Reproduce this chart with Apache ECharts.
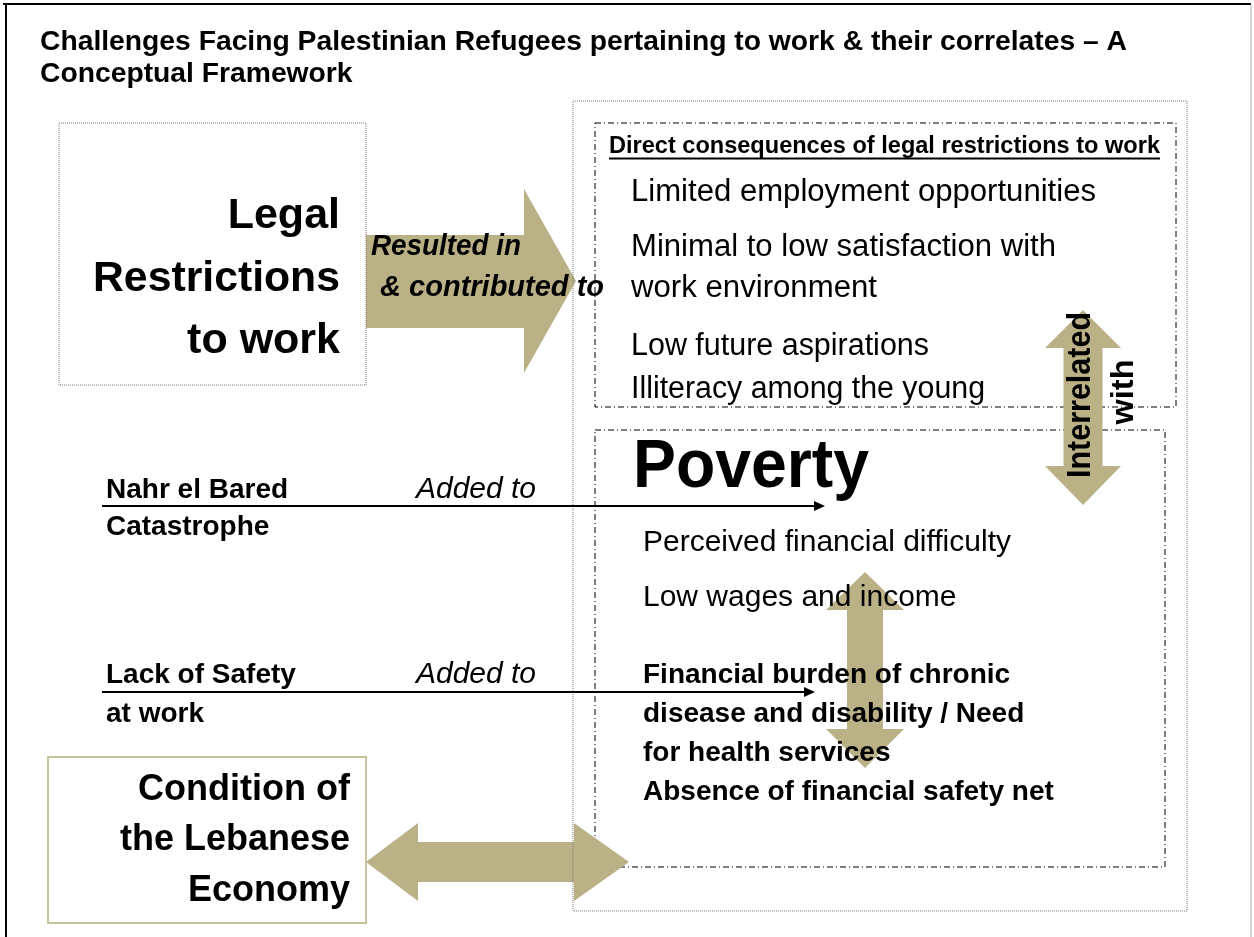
<!DOCTYPE html>
<html>
<head>
<meta charset="utf-8">
<script src="https://cdn.jsdelivr.net/npm/echarts@6/dist/echarts.min.js"></script>
<style>
html,body{margin:0;padding:0;background:#fff;}
#main{width:1254px;height:937px;}
</style>
</head>
<body>
<div id="main"></div>
<script>
// ---- text content ----
var titleLines = ["Challenges Facing Palestinian Refugees pertaining to work & their correlates \u2013 A", "Conceptual Framework"];
var legalLines = ["Legal", "Restrictions", "to work"];
var resultedLines = ["Resulted in", " & contributed to"];
var directHeading = "Direct consequences of legal restrictions to work";
var directItems = ["Limited employment opportunities", "Minimal to low satisfaction with", "work environment", "Low future aspirations", "Illiteracy among the young"];
var povertyTitle = "Poverty";
var povertyItems = ["Perceived financial difficulty", "Low wages and income"];
var povertyBold = ["Financial burden of chronic", "disease and disability / Need", "for health services", "Absence of financial safety net"];
var nahrLines = ["Nahr el Bared", "Catastrophe"];
var safetyLines = ["Lack of Safety", "at work"];
var addedTo = "Added to";
var interLines = ["Interrelated", "with"];
var economyLines = ["Condition of", "the Lebanese", "Economy"];

// ---- styling / layout ----
var TAN = '#bbb186';
var FAMILY = 'Liberation Sans';
var cv = document.createElement('canvas').getContext('2d');
function fontStr(size, bold, italic){ return (italic?'italic ':'normal ') + (bold?'bold ':'normal ') + size + 'px "' + FAMILY + '", Arial, sans-serif'; }
function T(text, x, y, size, o){
  o = o || {};
  var sx = o.sx || 1;
  if (o.w){ cv.font = fontStr(size, o.bold, o.italic); var m = cv.measureText(text).width; if (m > 0) sx = o.w / m; }
  return {type:'text', x:x, y:y, z:50, scaleX:sx, rotation:o.rot||0, silent:true,
    style:{text:text, fontFamily:FAMILY, fontSize:size, fontWeight:o.bold?'bold':'normal', fontStyle:o.italic?'italic':'normal',
      fill:'#000', textAlign:o.align||'left', textVerticalAlign:'middle'}};
}
function L(x1,y1,x2,y2,o){
  o=o||{};
  return {type:'line', z:o.z||20, silent:true, shape:{x1:x1,y1:y1,x2:x2,y2:y2},
    style:{stroke:o.color||'#000', lineWidth:o.lw||1, lineDash:o.dash||null}};
}
function R(x,y,w,h,o){
  return {type:'rect', z:o.z||20, silent:true, shape:{x:x,y:y,width:w,height:h},
    style:{fill:'none', stroke:o.color, lineWidth:o.lw||1, lineDash:o.dash||null}};
}
function P(pts, z){ return {type:'polygon', z:z||10, silent:true, shape:{points:pts}, style:{fill:TAN}}; }
function rightArrow(x0, sy0, sy1, hx, hy0, hy1, tx, ty){
  return P([[x0,sy0],[hx,sy0],[hx,hy0],[tx,ty],[hx,hy1],[hx,sy1],[x0,sy1]]);
}
function hDouble(lt, lb, rb, rt, cy, hh, sh){
  return P([[lt,cy],[lb,cy-hh],[lb,cy-sh],[rb,cy-sh],[rb,cy-hh],[rt,cy],[rb,cy+hh],[rb,cy+sh],[lb,cy+sh],[lb,cy+hh]]);
}
function vDouble(cx, tt, tb, bb, bt, hw, sw){
  return P([[cx,tt],[cx+hw,tb],[cx+sw,tb],[cx+sw,bb],[cx+hw,bb],[cx,bt],[cx-hw,bb],[cx-sw,bb],[cx-sw,tb],[cx-hw,tb]]);
}
function arrowLine(x1, x2, y){
  return [L(x1,y,x2-6,y,{lw:2,z:30}), {type:'polygon', z:30, silent:true, shape:{points:[[x2,y],[x2-11,y-5],[x2-11,y+5]]}, style:{fill:'#000'}}];
}

var DOT = [1,1];
var DASHDOT = [6,3,1,3];
var g = [];
// frame
g.push(L(3,4,1251,4,{lw:2,z:5}));
g.push(L(6,4,6,937,{lw:2,z:5}));
g.push(L(1251,4,1251,937,{lw:1,color:'#b0b0b0',z:5}));

// arrows (beneath boxes and text)
g.push(rightArrow(366,235,328,524,189,373,576,281));
g.push(hDouble(366,418,574,629,862,39,20));
g.push(vDouble(1083,310,348,466,505,38,19.5));
g.push(vDouble(865,572,610,729,768,39,18));

// inner dash-dot boxes (behind the vertical arrow)
g.push(R(595,123,581,284,{color:'#000',dash:DASHDOT,z:5}));
g.push(R(595,430,570,437,{color:'#000',dash:DASHDOT,z:5}));
// dotted boxes (over arrows)
g.push(R(59,123,307,262,{color:'#777',dash:DOT,z:20}));
g.push(R(573,101,614,810,{color:'#777',dash:DOT,z:20}));
g.push(R(48,757,318,166,{color:'#c9c29f',lw:2,z:20}));

// title
var tEl = T(titleLines[0],40,42,28,{bold:true,w:1087});
g.push(tEl);
g.push(T(titleLines[1],40,74,28,{bold:true,sx:tEl.scaleX}));

// legal restrictions
g.push(T(legalLines[0],340,216,43,{bold:true,align:'right'}));
g.push(T(legalLines[1],340,279,43,{bold:true,align:'right',w:247}));
g.push(T(legalLines[2],340,341,43,{bold:true,align:'right'}));
g.push(T(resultedLines[0],371,247,29,{bold:true,italic:true,w:150}));
g.push(T(resultedLines[1],372,288,29,{bold:true,italic:true,w:232}));

// direct consequences
g.push(T(directHeading,609,146,24,{bold:true,w:551}));
g.push(L(609,158.5,1160,158.5,{lw:2,z:50}));
var dy = [192,247,288,346,389];
var dw = [465,425,246,298,354];
directItems.forEach(function(t,i){ g.push(T(t,631,dy[i],31,{w:dw[i]})); });

// poverty
g.push(T(povertyTitle,633,468,68,{bold:true,w:236}));
var py = [543,598];
povertyItems.forEach(function(t,i){ g.push(T(t,643,py[i],30)); });
var by = [675,714,753,792];
povertyBold.forEach(function(t,i){ g.push(T(t,643,by[i],28,{bold:true})); });

// interrelated with
g.push(T(interLines[0],1081,395,33,{bold:true,align:'center',rot:Math.PI/2,w:166}));
g.push(T(interLines[1],1124,392,32,{bold:true,align:'center',rot:Math.PI/2,w:65}));

// Nahr el Bared / safety
g.push(T(nahrLines[0],106,490,28,{bold:true}));
g.push(T(nahrLines[1],106,527,28,{bold:true}));
g.push(T(addedTo,416,490,30,{italic:true,w:120}));
arrowLine(102,825,506).forEach(function(e){g.push(e);});
g.push(T(safetyLines[0],106,675,28,{bold:true}));
g.push(T(safetyLines[1],106,714,28,{bold:true}));
g.push(T(addedTo,416,675,30,{italic:true,w:120}));
arrowLine(102,815,692).forEach(function(e){g.push(e);});

// economy
var ey = [790,840,891];
economyLines.forEach(function(t,i){ g.push(T(t,350,ey[i],36,{bold:true,align:'right'})); });

var chart = echarts.init(document.getElementById('main'), null, {renderer:'canvas'});
chart.setOption({backgroundColor:'#fff', animation:false, graphic:{elements:g}});
</script>
</body>
</html>
